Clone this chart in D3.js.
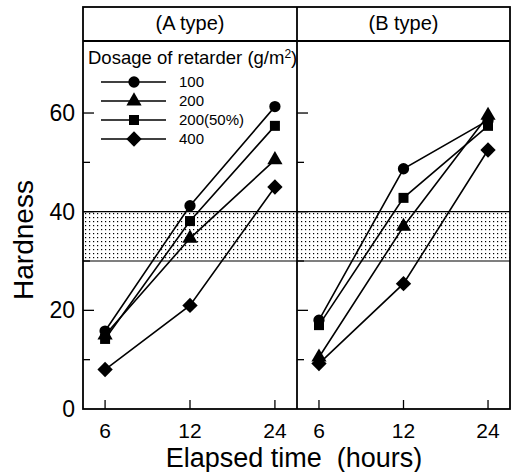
<!DOCTYPE html>
<meta charset="utf-8">
<style>
body { margin: 0; background: #fff; }
text { font-family: "Liberation Sans", Arial, sans-serif; fill: #000; }
</style>
<body>
<script src="https://cdn.jsdelivr.net/npm/d3@7"></script>
<div id="content"></div>
<script>
var width = 515,
    height = 472;

var times = ["6", "12", "24"];
var panels = ["(A type)", "(B type)"];
var dosages = ["100", "200", "200(50%)", "400"];
var symbols = [d3.symbolCircle, d3.symbolTriangle, d3.symbolSquare, d3.symbolDiamond2];
var symbolSizes = [100, 100, 100, 150];

// hardness at 6, 12, 24 h
var aType = [
  [15.8, 41.2, 61.3],
  [15.0, 34.6, 50.5],
  [14.2, 38.1, 57.4],
  [8.0, 21.0, 45.0]
];
var bType = [
  [18.0, 48.7, 58.5],
  [10.5, 37.0, 59.5],
  [17.0, 42.8, 57.4],
  [9.2, 25.4, 52.5]
];
var bandLow = 30, bandHigh = 40;
var yTicks = [0, 20, 40, 60];
var yMinor = [10, 30, 50];

var frameLeft = 83, frameMid = 297, frameRight = 510,
    frameTop = 7, headerBottom = 41, frameBottom = 409;

var svg = d3.select("#content").append("svg")
    .attr("width", width)
    .attr("height", height);

var defs = svg.append("defs");
var pat = defs.append("pattern")
    .attr("id", "dots")
    .attr("patternUnits", "userSpaceOnUse")
    .attr("width", 4).attr("height", 4);
pat.append("rect").attr("x", 1).attr("y", 1).attr("width", 1.2).attr("height", 1.2).attr("fill", "#000");

var y = d3.scaleLinear().domain([0, 74.6]).range([frameBottom, headerBottom]);

var panelData = [aType, bType];
var panelX = [[frameLeft, frameMid], [frameMid, frameRight]];

panelData.forEach(function(data, p) {
  var x = d3.scalePoint().domain(times)
      .range(panelX[p]).padding(0.26);
  var g = svg.append("g");

  // shaded band
  g.append("rect")
    .attr("x", panelX[p][0]).attr("width", panelX[p][1] - panelX[p][0])
    .attr("y", y(bandHigh)).attr("height", y(bandLow) - y(bandHigh))
    .attr("fill", "url(#dots)");
  [bandLow, bandHigh].forEach(function(v) {
    g.append("line")
      .attr("x1", panelX[p][0]).attr("x2", panelX[p][1])
      .attr("y1", y(v)).attr("y2", y(v))
      .attr("stroke", "#000").attr("stroke-width", 1.2);
  });

  // y ticks (inward)
  yTicks.forEach(function(v) {
    if (v === 0) return;
    g.append("line")
      .attr("x1", panelX[p][0]).attr("x2", panelX[p][0] + 11)
      .attr("y1", y(v)).attr("y2", y(v))
      .attr("stroke", "#000").attr("stroke-width", 1.3);
  });
  yMinor.forEach(function(v) {
    g.append("line")
      .attr("x1", panelX[p][0]).attr("x2", panelX[p][0] + 7)
      .attr("y1", y(v)).attr("y2", y(v))
      .attr("stroke", "#000").attr("stroke-width", 1.3);
  });

  // x ticks (inward) and labels
  times.forEach(function(t) {
    g.append("line")
      .attr("x1", x(t)).attr("x2", x(t))
      .attr("y1", frameBottom).attr("y2", frameBottom - 9)
      .attr("stroke", "#000").attr("stroke-width", 1.3);
    g.append("text")
      .attr("x", x(t)).attr("y", 438)
      .attr("text-anchor", "middle")
      .style("font-size", "21px")
      .text(t);
  });

  // header
  g.append("text")
    .attr("x", (panelX[p][0] + panelX[p][1]) / 2).attr("y", 30)
    .attr("text-anchor", "middle")
    .style("font-size", "20px")
    .text(panels[p]);

  // series
  var line = d3.line()
    .x(function(d, i) { return x(times[i]); })
    .y(function(d) { return y(d); });
  data.forEach(function(s, k) {
    g.append("path")
      .attr("d", line(s))
      .attr("fill", "none")
      .attr("stroke", "#000")
      .attr("stroke-width", 1.6);
    g.selectAll(".m" + k)
      .data(s)
      .enter()
      .append("path")
      .attr("transform", function(d, i) { return "translate(" + x(times[i]) + "," + y(d) + ")"; })
      .attr("d", d3.symbol().type(symbols[k]).size(symbolSizes[k]))
      .attr("fill", "#000");
  });
});

// frame
var frame = svg.append("g").attr("fill", "none").attr("stroke", "#000").attr("stroke-width", 1.8);
frame.append("rect")
  .attr("x", frameLeft).attr("y", frameTop)
  .attr("width", frameRight - frameLeft).attr("height", frameBottom - frameTop);
frame.append("line").attr("x1", frameLeft).attr("x2", frameRight).attr("y1", headerBottom).attr("y2", headerBottom);
frame.append("line").attr("x1", frameMid).attr("x2", frameMid).attr("y1", frameTop).attr("y2", frameBottom);

// y labels
yTicks.forEach(function(v) {
  svg.append("text")
    .attr("x", 75).attr("y", y(v) + 8)
    .attr("text-anchor", "end")
    .style("font-size", "23px")
    .text(v);
});

svg.append("text")
  .attr("transform", "translate(33," + 240 + ") rotate(-90)")
  .attr("text-anchor", "middle")
  .style("font-size", "28px")
  .text("Hardness");

svg.append("text")
  .attr("x", 294).attr("y", 467)
  .attr("text-anchor", "middle")
  .style("font-size", "27px")
  .attr("xml:space", "preserve")
  .text("Elapsed time  (hours)");

// legend
var legend = svg.append("g");
var title = legend.append("text")
  .attr("x", 88).attr("y", 64)
  .style("font-size", "18.5px");
title.append("tspan").text("Dosage of retarder (g/m");
title.append("tspan").attr("dy", -6).style("font-size", "12px").text("2");
title.append("tspan").attr("dy", 6).text(")");

dosages.forEach(function(d, k) {
  var ly = 82 + k * 19;
  legend.append("line")
    .attr("x1", 101).attr("x2", 166)
    .attr("y1", ly).attr("y2", ly)
    .attr("stroke", "#000").attr("stroke-width", 1.5);
  legend.append("path")
    .attr("transform", "translate(134," + ly + ")")
    .attr("d", d3.symbol().type(symbols[k]).size(symbolSizes[k]))
    .attr("fill", "#000");
  legend.append("text")
    .attr("x", 179).attr("y", ly + 5)
    .style("font-size", "15px")
    .text(d);
});
</script>
</body>
